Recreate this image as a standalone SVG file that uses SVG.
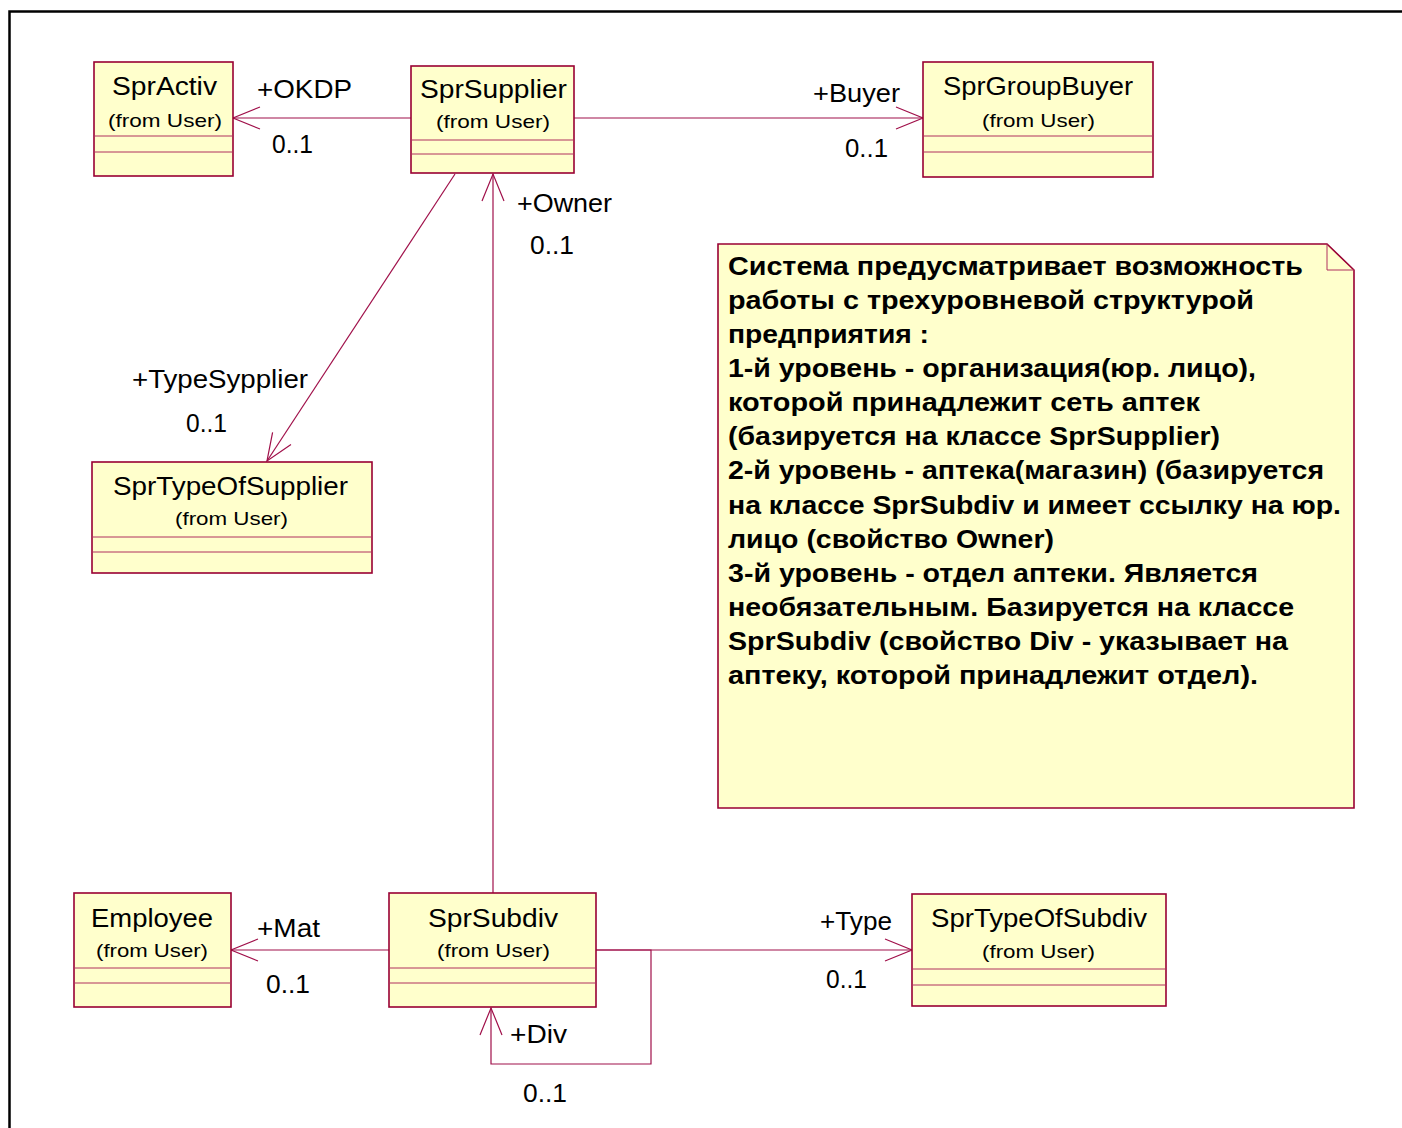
<svg xmlns="http://www.w3.org/2000/svg" width="1402" height="1128" viewBox="0 0 1402 1128">
<defs>
<style>
.box{fill:#FFFFCC;stroke:#990033;stroke-width:1.6}
.dv{stroke:#B0305F;stroke-width:1;fill:none}
.conn{stroke:#A0104A;stroke-width:1.2;fill:none}
text{font-family:"Liberation Sans",Arial,sans-serif;fill:#000}
.nm{font-size:25px}
.fr{font-size:19px}
.lb{font-size:25px}
.nt{font-size:25px;font-weight:bold}
</style>
<marker id="arr" markerUnits="userSpaceOnUse" orient="auto" refX="0" refY="0" markerWidth="30" markerHeight="30" style="overflow:visible">
<path d="M-27,-11 L0,0 L-27,11" fill="none" stroke="#A0104A" stroke-width="1.2"/>
</marker>
</defs>
<rect width="1402" height="1128" fill="#fff"/>
<path d="M9.5,1128 V11.5 H1402" fill="none" stroke="#000" stroke-width="2.5"/>

<g id="connectors">
<line class="conn" x1="411" y1="118" x2="233" y2="118" marker-end="url(#arr)"/>
<line class="conn" x1="574" y1="118" x2="923" y2="118" marker-end="url(#arr)"/>
<line class="conn" x1="455" y1="174" x2="267" y2="461" marker-end="url(#arr)"/>
<line class="conn" x1="493" y1="893" x2="493" y2="174" marker-end="url(#arr)"/>
<line class="conn" x1="389" y1="950" x2="231" y2="950" marker-end="url(#arr)"/>
<line class="conn" x1="596" y1="950" x2="912" y2="950" marker-end="url(#arr)"/>
<polyline class="conn" points="596,950 651,950 651,1064 491,1064 491,1008" marker-end="url(#arr)"/>
<text class="lb" x="257" y="98" textLength="95" lengthAdjust="spacingAndGlyphs">+OKDP</text>
<text class="lb" x="272" y="153" textLength="41" lengthAdjust="spacingAndGlyphs">0..1</text>
<text class="lb" x="813" y="102" textLength="87" lengthAdjust="spacingAndGlyphs">+Buyer</text>
<text class="lb" x="845" y="157" textLength="43" lengthAdjust="spacingAndGlyphs">0..1</text>
<text class="lb" x="132" y="388" textLength="176" lengthAdjust="spacingAndGlyphs">+TypeSypplier</text>
<text class="lb" x="186" y="432" textLength="41" lengthAdjust="spacingAndGlyphs">0..1</text>
<text class="lb" x="517" y="212" textLength="95" lengthAdjust="spacingAndGlyphs">+Owner</text>
<text class="lb" x="530" y="254" textLength="44" lengthAdjust="spacingAndGlyphs">0..1</text>
<text class="lb" x="257" y="937" textLength="63" lengthAdjust="spacingAndGlyphs">+Mat</text>
<text class="lb" x="266" y="993" textLength="44" lengthAdjust="spacingAndGlyphs">0..1</text>
<text class="lb" x="820" y="930" textLength="72" lengthAdjust="spacingAndGlyphs">+Type</text>
<text class="lb" x="826" y="988" textLength="41" lengthAdjust="spacingAndGlyphs">0..1</text>
<text class="lb" x="510" y="1043" textLength="57" lengthAdjust="spacingAndGlyphs">+Div</text>
<text class="lb" x="523" y="1102" textLength="44" lengthAdjust="spacingAndGlyphs">0..1</text>
</g>

<g id="SprActiv">
<rect class="box" x="94" y="62" width="139" height="114"/>
<line class="dv" x1="94" y1="136" x2="233" y2="136"/>
<line class="dv" x1="94" y1="152" x2="233" y2="152"/>
<text class="nm" x="112" y="95" textLength="105" lengthAdjust="spacingAndGlyphs">SprActiv</text>
<text class="fr" x="108" y="127" textLength="114" lengthAdjust="spacingAndGlyphs">(from User)</text>
</g>

<g id="SprSupplier">
<rect class="box" x="411" y="66" width="163" height="107"/>
<line class="dv" x1="411" y1="140" x2="574" y2="140"/>
<line class="dv" x1="411" y1="154" x2="574" y2="154"/>
<text class="nm" x="420" y="98" textLength="147" lengthAdjust="spacingAndGlyphs">SprSupplier</text>
<text class="fr" x="436" y="128" textLength="114" lengthAdjust="spacingAndGlyphs">(from User)</text>
</g>

<g id="SprGroupBuyer">
<rect class="box" x="923" y="62" width="230" height="115"/>
<line class="dv" x1="923" y1="136" x2="1153" y2="136"/>
<line class="dv" x1="923" y1="152" x2="1153" y2="152"/>
<text class="nm" x="943" y="95" textLength="190" lengthAdjust="spacingAndGlyphs">SprGroupBuyer</text>
<text class="fr" x="982" y="127" textLength="113" lengthAdjust="spacingAndGlyphs">(from User)</text>
</g>

<g id="SprTypeOfSupplier">
<rect class="box" x="92" y="462" width="280" height="111"/>
<line class="dv" x1="92" y1="537" x2="372" y2="537"/>
<line class="dv" x1="92" y1="552" x2="372" y2="552"/>
<text class="nm" x="113" y="495" textLength="235" lengthAdjust="spacingAndGlyphs">SprTypeOfSupplier</text>
<text class="fr" x="175" y="525" textLength="113" lengthAdjust="spacingAndGlyphs">(from User)</text>
</g>

<g id="Employee">
<rect class="box" x="74" y="893" width="157" height="114"/>
<line class="dv" x1="74" y1="968" x2="231" y2="968"/>
<line class="dv" x1="74" y1="983" x2="231" y2="983"/>
<text class="nm" x="91" y="927" textLength="122" lengthAdjust="spacingAndGlyphs">Employee</text>
<text class="fr" x="96" y="957" textLength="112" lengthAdjust="spacingAndGlyphs">(from User)</text>
</g>

<g id="SprSubdiv">
<rect class="box" x="389" y="893" width="207" height="114"/>
<line class="dv" x1="389" y1="968" x2="596" y2="968"/>
<line class="dv" x1="389" y1="983" x2="596" y2="983"/>
<text class="nm" x="428" y="927" textLength="130" lengthAdjust="spacingAndGlyphs">SprSubdiv</text>
<text class="fr" x="437" y="957" textLength="113" lengthAdjust="spacingAndGlyphs">(from User)</text>
</g>

<g id="SprTypeOfSubdiv">
<rect class="box" x="912" y="894" width="254" height="112"/>
<line class="dv" x1="912" y1="969" x2="1166" y2="969"/>
<line class="dv" x1="912" y1="985" x2="1166" y2="985"/>
<text class="nm" x="931" y="927" textLength="216" lengthAdjust="spacingAndGlyphs">SprTypeOfSubdiv</text>
<text class="fr" x="982" y="958" textLength="113" lengthAdjust="spacingAndGlyphs">(from User)</text>
</g>

<g id="note">
<path class="box" d="M718,244 H1327 L1354,270 V808 H718 Z"/>
<path class="dv" d="M1327,244 V270 H1354"/>
<text class="nt" x="728" y="275" textLength="575" lengthAdjust="spacingAndGlyphs">Система предусматривает возможность</text>
<text class="nt" x="728" y="309" textLength="526" lengthAdjust="spacingAndGlyphs">работы с трехуровневой структурой</text>
<text class="nt" x="728" y="343" textLength="201" lengthAdjust="spacingAndGlyphs">предприятия :</text>
<text class="nt" x="728" y="377" textLength="528" lengthAdjust="spacingAndGlyphs">1-й уровень - организация(юр. лицо),</text>
<text class="nt" x="728" y="411" textLength="472" lengthAdjust="spacingAndGlyphs">которой принадлежит сеть аптек</text>
<text class="nt" x="728" y="445" textLength="492" lengthAdjust="spacingAndGlyphs">(базируется на классе SprSupplier)</text>
<text class="nt" x="728" y="479" textLength="596" lengthAdjust="spacingAndGlyphs">2-й уровень - аптека(магазин) (базируется</text>
<text class="nt" x="728" y="514" textLength="613" lengthAdjust="spacingAndGlyphs">на классе SprSubdiv и имеет ссылку на юр.</text>
<text class="nt" x="728" y="548" textLength="326" lengthAdjust="spacingAndGlyphs">лицо (свойство Owner)</text>
<text class="nt" x="728" y="582" textLength="530" lengthAdjust="spacingAndGlyphs">3-й уровень - отдел аптеки. Является</text>
<text class="nt" x="728" y="616" textLength="566" lengthAdjust="spacingAndGlyphs">необязательным. Базируется на классе</text>
<text class="nt" x="728" y="650" textLength="560" lengthAdjust="spacingAndGlyphs">SprSubdiv (свойство Div - указывает на</text>
<text class="nt" x="728" y="684" textLength="530" lengthAdjust="spacingAndGlyphs">аптеку, которой принадлежит отдел).</text>
</g>
</svg>
